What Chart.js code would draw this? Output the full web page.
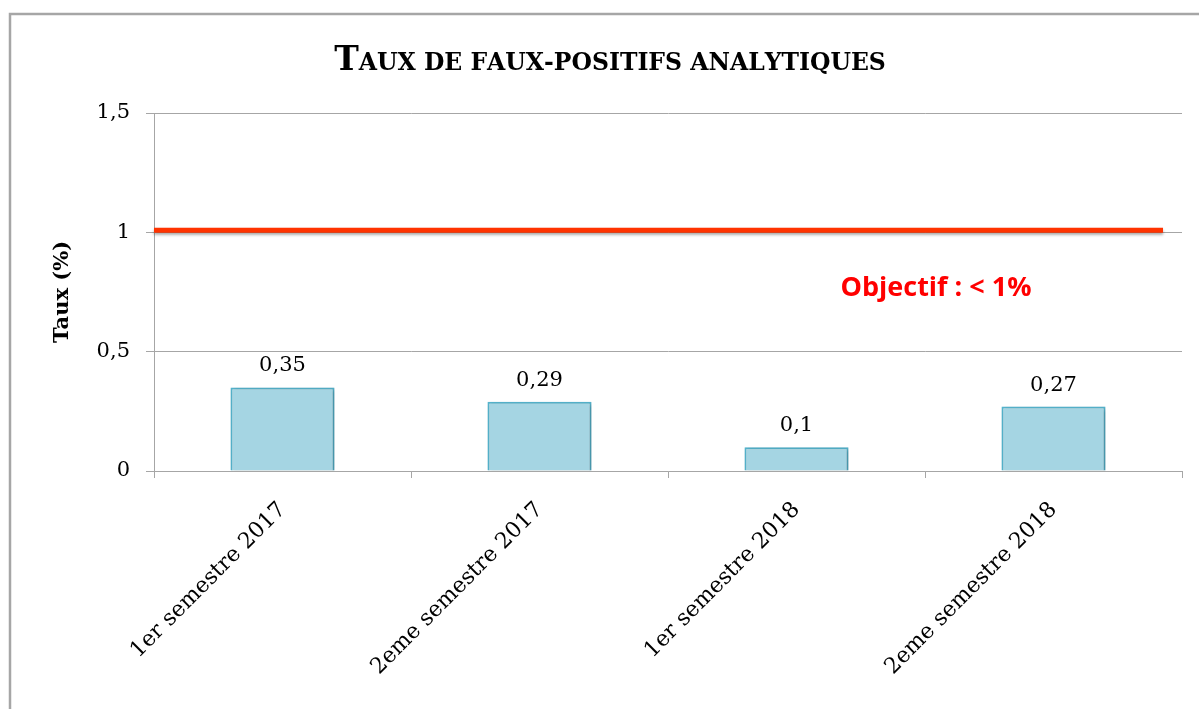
<!DOCTYPE html>
<html>
<head>
<meta charset="utf-8">
<title>Taux de faux-positifs analytiques</title>
<script src="https://cdn.jsdelivr.net/npm/chart.js"></script>
<style>
  html, body { margin: 0; padding: 0; background: #fff; }
</style>
</head>
<body>
<canvas id="tauxChart" width="1199" height="709"></canvas>
<script>
// données
const semestres = ["1er semestre 2017", "2eme semestre 2017", "1er semestre 2018", "2eme semestre 2018"];
const taux = [0.35, 0.29, 0.1, 0.27];
const yTicks = [0, 0.5, 1, 1.5];
const objectif = 1;
const objectifLabel = "Objectif : < 1%";
const objectifLabelValue = 0.74;
const titre = "Taux de faux-positifs analytiques";

const serif = '"DejaVu Serif", serif';
const grey = "#a6a6a6";
const fmt = (v) => String(v).replace(".", ",");

// cadre gris (haut et gauche)
const frame = {
  id: "frame",
  beforeDraw(chart) {
    const ctx = chart.ctx;
    ctx.save();
    ctx.strokeStyle = grey;
    ctx.lineWidth = 2.5;
    ctx.beginPath();
    ctx.moveTo(10, chart.height);
    ctx.lineTo(10, 14);
    ctx.lineTo(chart.width, 14);
    ctx.stroke();
    ctx.restore();
  }
};

// titre en petites capitales (dessin manuel)
const smallCapsTitle = {
  id: "smallCapsTitle",
  afterDraw(chart) {
    const ctx = chart.ctx;
    const big = "bold 33px " + serif;
    const small = "bold 23.5px " + serif;
    const parts = [...titre].map((c) => {
      const isUpper = c !== c.toLowerCase();
      return { ch: c.toUpperCase(), font: isUpper ? big : small };
    });
    ctx.save();
    let total = 0;
    parts.forEach((p) => { ctx.font = p.font; p.w = ctx.measureText(p.ch).width; total += p.w; });
    let x = 610 - total / 2;
    ctx.fillStyle = "#000";
    ctx.textBaseline = "alphabetic";
    ctx.textAlign = "left";
    parts.forEach((p) => { ctx.font = p.font; ctx.fillText(p.ch, x, 70); x += p.w; });
    ctx.restore();
  }
};

// ombre légère sous les barres
const barShadow = {
  id: "barShadow",
  beforeDatasetDraw(chart) {
    const ctx = chart.ctx;
    ctx.save();
    ctx.shadowColor = "rgba(0,0,0,0.22)";
    ctx.shadowBlur = 4;
    ctx.shadowOffsetX = 2;
    ctx.shadowOffsetY = 1;
  },
  afterDatasetDraw(chart) {
    chart.ctx.restore();
  }
};

// ligne objectif + étiquettes
const overlay = {
  id: "overlay",
  afterDatasetsDraw(chart) {
    const ctx = chart.ctx;
    const area = chart.chartArea;
    const x = chart.scales.x;
    const y = chart.scales.y;

    ctx.save();
    ctx.shadowColor = "rgba(0,0,0,0.35)";
    ctx.shadowBlur = 3;
    ctx.shadowOffsetY = 2;
    ctx.strokeStyle = "#ff3300";
    ctx.lineWidth = 5;
    ctx.beginPath();
    const yObj = y.getPixelForValue(objectif) - 2;
    ctx.moveTo(area.left, yObj);
    ctx.lineTo(area.right - 19, yObj);
    ctx.stroke();
    ctx.restore();

    ctx.save();
    ctx.fillStyle = "#ff0000";
    ctx.font = 'bold 27px "Open Sans", sans-serif';
    ctx.textAlign = "center";
    ctx.textBaseline = "alphabetic";
    ctx.fillText(objectifLabel, x.getPixelForValue(2.5) + 11, y.getPixelForValue(objectifLabelValue) + 2);
    ctx.restore();

    ctx.save();
    ctx.fillStyle = "#000";
    ctx.font = "21px " + serif;
    ctx.textAlign = "center";
    ctx.textBaseline = "alphabetic";
    chart.getDatasetMeta(0).data.forEach((bar, i) => {
      ctx.fillText(fmt(taux[i]), bar.x, bar.y - 16);
    });
    ctx.restore();
  }
};

new Chart(document.getElementById("tauxChart"), {
  type: "bar",
  data: {
    labels: semestres,
    datasets: [
      {
        data: taux,
        backgroundColor: "#a5d5e3",
        borderColor: "#55b4cd",
        borderWidth: 2,
        categoryPercentage: 1,
        barPercentage: 0.405
      }
    ]
  },
  options: {
    responsive: false,
    animation: false,
    devicePixelRatio: 1,
    layout: { padding: { left: 0, right: 17, top: 113, bottom: 0 } },
    plugins: {
      legend: { display: false },
      tooltip: { enabled: false },
      title: { display: false }
    },
    scales: {
      x: {
        offset: true,
        grid: {
          offset: true,
          drawOnChartArea: false,
          drawTicks: true,
          tickLength: 7,
          color: grey
        },
        border: { display: true, color: grey },
        ticks: {
          color: "#000",
          font: { family: serif, size: 22 },
          minRotation: 45,
          maxRotation: 45,
          padding: 19
        },
        afterFit(scale) { scale.height = 709 - 471; }
      },
      y: {
        min: 0,
        max: 1.5,
        afterBuildTicks(scale) { scale.ticks = yTicks.map((v) => ({ value: v })); },
        grid: { color: grey, tickLength: 8 },
        border: { display: true, color: grey },
        ticks: {
          color: "#000",
          font: { family: serif, size: 21 },
          padding: 16,
          callback: (v) => fmt(v)
        },
        title: {
          display: true,
          text: "Taux (%)",
          color: "#000",
          font: { family: serif, size: 21, weight: "bold" },
          padding: { top: 50, bottom: 0 }
        },
        afterFit(scale) { scale.width = 154; }
      }
    }
  },
  plugins: [frame, smallCapsTitle, barShadow, overlay]
});
</script>
</body>
</html>
